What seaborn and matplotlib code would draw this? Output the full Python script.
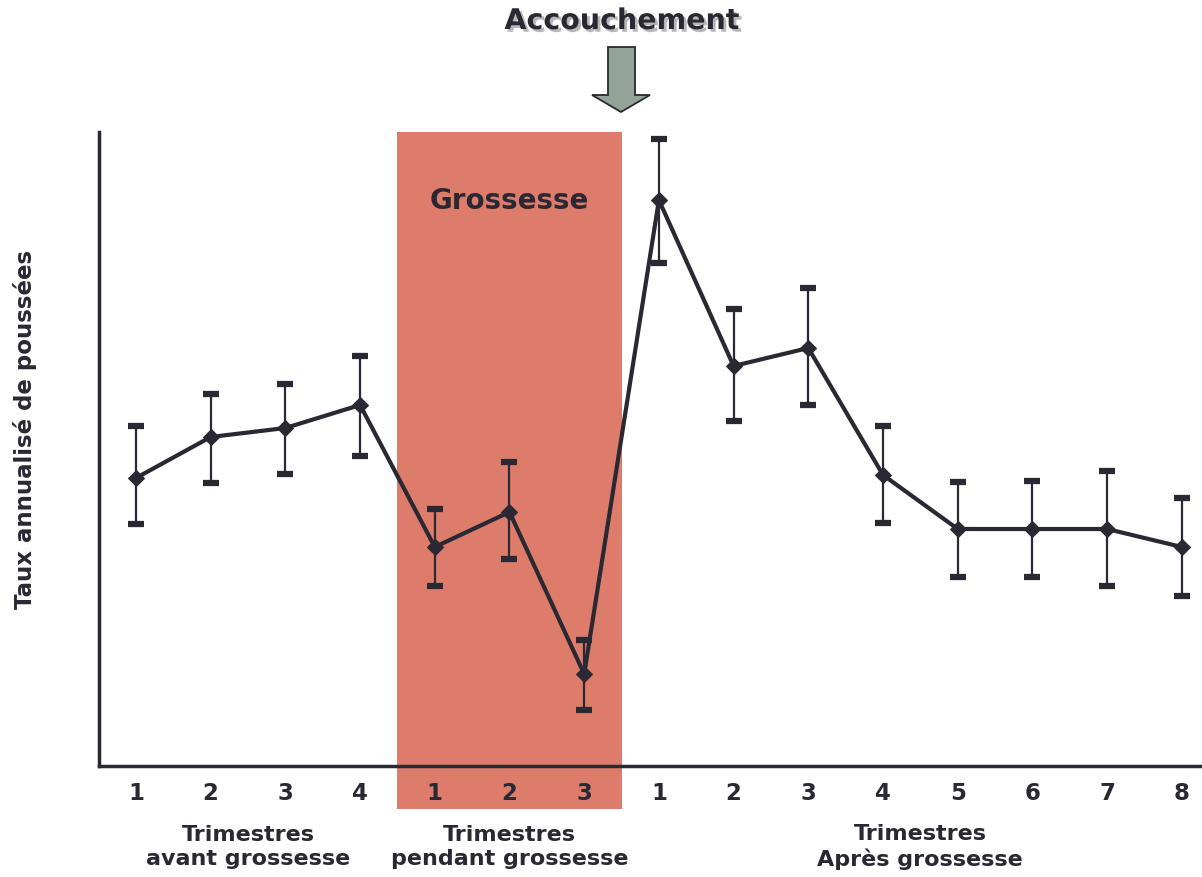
import pandas as pd
import seaborn as sb
import matplotlib.pyplot as plt
import matplotlib.patheffects as pe
from matplotlib.patches import Rectangle, Polygon

# positions along the time axis and their tick labels
positions = list(range(1, 16))
tick_labels = ['1', '2', '3', '4', '1', '2', '3', '1', '2', '3', '4', '5', '6', '7', '8']
groups = ['Trimestres\navant grossesse', 'Trimestres\npendant grossesse', 'Trimestres\nAprès grossesse']

# annualised relapse rate (arbitrary units) with error bar limits
rate = [28.8, 32.9, 33.8, 36.1, 21.9, 25.4, 9.2, 56.6, 40.0, 41.8, 29.1, 23.7, 23.7, 23.7, 21.9]
upper = [34.0, 37.2, 38.2, 41.0, 25.7, 30.4, 12.6, 62.7, 45.7, 47.8, 34.0, 28.4, 28.5, 29.5, 26.8]
lower = [24.2, 28.3, 29.2, 31.0, 18.0, 20.7, 5.6, 50.3, 34.5, 36.1, 24.3, 18.9, 18.9, 18.0, 17.0]

df = pd.DataFrame({'pos': positions, 'rate': rate, 'upper': upper, 'lower': lower})

dark = '#2a2933'
salmon = '#de7c6b'

sb.set_style('white')
plt.rcParams['font.family'] = ['DejaVu Sans']
plt.rcParams['font.weight'] = 'bold'

W, H = 1202, 878
fig = plt.figure(figsize=(W / 100, H / 100), dpi=100)
ax = fig.add_axes([99 / W, (H - 767) / H, (W - 99) / W, (767 - 133) / H])

ax.set_xlim(0.505, 15.27)
ax.set_ylim(0, 63.4)

# pregnancy band, runs a bit below the x axis
band = Rectangle((4.5, -4.3), 3.0, 67.7, facecolor=salmon, edgecolor='none', clip_on=False, zorder=0)
ax.add_patch(band)
ax.text(6.0, 56.6, 'Grossesse', ha='center', va='center', fontsize=20, fontweight='bold', color=dark)

# error bars
ax.errorbar(df.pos, df.rate, yerr=[df.rate - df.lower, df.upper - df.rate], fmt='none',
            ecolor=dark, elinewidth=1.6, capsize=5.5, capthick=4.5, zorder=2, clip_on=False)

sb.lineplot(data=df, x='pos', y='rate', ax=ax, color=dark, linewidth=3, marker='D',
            markersize=8, markeredgecolor=dark, zorder=3)

ax.set_xticks(positions)
ax.set_xticklabels(tick_labels, fontsize=16.5, fontweight='bold', color=dark)
ax.set_yticks([])
ax.tick_params(axis='x', length=0, pad=11)
ax.set_xlabel('')
ax.set_ylabel('Taux annualisé de poussées', fontsize=16.5, fontweight='bold', color=dark)
ax.yaxis.set_label_coords(-0.056, 0.533)

for side in ['top', 'right']:
    ax.spines[side].set_visible(False)
for side in ['left', 'bottom']:
    ax.spines[side].set_color(dark)
    ax.spines[side].set_linewidth(2.5)

# group labels under the ticks
for x, label in zip([2.5, 6.0, 11.5], groups):
    ax.text(x, -8.0, label, ha='center', va='center', fontsize=16, fontweight='bold',
            color=dark, linespacing=1.3)

# delivery marker: title with shadow and a downward arrow
fig.text(622 / W, 1 - 22 / H, 'Accouchement', ha='center', va='center', fontsize=20.5,
         fontweight='bold', color=dark,
         path_effects=[pe.SimplePatchShadow(offset=(2, -2), shadow_rgbFace='#888888', alpha=0.6), pe.Normal()])

arrow_px = [(608, 48), (635, 48), (635, 96), (650, 96), (621, 113), (592, 96), (608, 96)]
arrow = Polygon([(x / W, 1 - y / H) for x, y in arrow_px], closed=True, facecolor='#93a397',
                edgecolor=dark, linewidth=1.3, transform=fig.transFigure)
fig.patches.append(arrow)

fig.savefig('out.png', dpi=100)
